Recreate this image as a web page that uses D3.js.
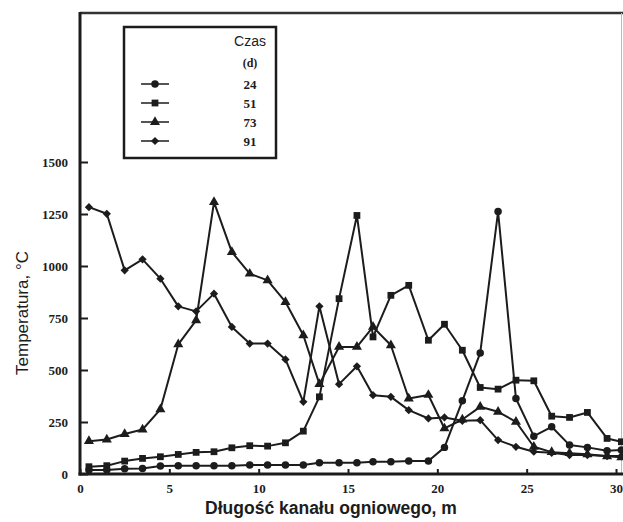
<html>
  <head>
    <script src="https://d3js.org/d3.v7.min.js"></script>
    <style>
      body { margin: 0; background: #fff; }
    </style>
  </head>
  <body>
    <script>
      // distances along the fire channel (m) and temperatures (C) per time (days)
      var dist = [0.5,1.5,2.5,3.5,4.5,5.5,6.5,7.5,8.5,9.5,10.5,11.5,12.5,13.4,14.5,15.5,16.4,17.4,18.4,19.5,20.4,21.4,22.4,23.4,24.4,25.4,26.4,27.4,28.4,29.5,30.3]
      var t24 = [19,19,25,27,38,40,40,40,40,43,43,43,43,54,54,54,59,59,62,62,128,352,582,1262,363,182,227,139,128,112,115]
      var t51 = [35,40,62,75,83,94,104,107,126,136,134,150,206,371,843,1243,659,859,907,643,720,595,416,408,451,448,278,272,296,171,155]
      var t73 = [158,166,192,214,311,623,739,1307,1067,963,931,827,667,432,611,611,707,619,363,380,219,262,323,299,251,131,105,100,95,85,80]
      var t91 = [1283,1251,979,1032,939,806,782,867,707,627,627,551,347,806,432,518,379,371,307,267,272,256,259,163,131,107,102,91,91,86,86]
      var seriesNames = ["24","51","73","91"]
      var xTicks = [0,5,10,15,20,25,30]
      var yTicks = [0,250,500,750,1000,1250,1500]

      var width = 623
      var height = 522
      var ink = "#1c1c1c"

      var svg = d3.select("body").append("svg")
      .attr("width", width)
      .attr("height", height);

      var x = d3.scaleLinear().domain([0,30]).range([80,616])
      var y = d3.scaleLinear().domain([0,1500]).range([474,162])

      // diamond drawn as a square turned 45 degrees
      var symbols = [d3.symbolCircle, d3.symbolSquare, d3.symbolTriangle, d3.symbolSquare]
      var symRot = [0, 0, 0, 45]
      var symSize = [44, 46, 44, 34]
      var allSeries = [t24, t51, t73, t91]

      // frame
      svg.append("line").attr("x1",80).attr("y1",13).attr("x2",623).attr("y2",13)
      .style("stroke","#333").style("stroke-width",2.5)
      svg.append("line").attr("x1",621.5).attr("y1",13).attr("x2",621.5).attr("y2",474)
      .style("stroke","#bbb").style("stroke-width",1)

      // axes
      var yAxis = d3.axisLeft(y).tickValues(yTicks).tickSize(-8).tickPadding(12).tickFormat(d3.format("d"))
      var xAxis = d3.axisBottom(x).tickValues(xTicks).tickSize(-5).tickPadding(10).tickFormat(d3.format("d"))

      var gy = svg.append("g").attr("transform","translate(80,0)").call(yAxis)
      var gx = svg.append("g").attr("transform","translate(0,474)").call(xAxis)
      gy.select(".domain").remove()
      gx.select(".domain").remove()
      svg.append("line").attr("x1",80).attr("y1",12).attr("x2",80).attr("y2",475.5)
      .style("stroke",ink).style("stroke-width",3)
      svg.append("line").attr("x1",78.5).attr("y1",474).attr("x2",623).attr("y2",474)
      .style("stroke",ink).style("stroke-width",3)

      svg.selectAll(".tick line").style("stroke",ink).style("stroke-width",2)
      svg.selectAll(".tick text")
      .style("font-family","'Liberation Serif', serif")
      .style("font-weight","bold")
      .style("font-size","13px")
      .style("fill",ink)

      // series
      var line = d3.line().x(function(d,i){ return x(dist[i]) }).y(function(d){ return y(d) })

      allSeries.forEach(function(vals, k) {
        svg.append("path")
        .datum(vals)
        .attr("d", line)
        .style("fill","none")
        .style("stroke",ink)
        .style("stroke-width",2)
        .style("stroke-linejoin","round")

        svg.selectAll(".pt" + k)
        .data(vals)
        .enter().append("path")
        .attr("class","pt" + k)
        .attr("transform", function(d,i){ return "translate(" + x(dist[i]) + "," + y(d) + ") rotate(" + symRot[k] + ")" })
        .attr("d", d3.symbol().type(symbols[k]).size(symSize[k]))
        .style("fill",ink)
      })

      // legend
      svg.append("rect")
      .attr("x",124).attr("y",27).attr("width",152).attr("height",131)
      .style("fill","white").style("stroke",ink).style("stroke-width",2.5)

      svg.append("text").attr("x",250).attr("y",46).attr("text-anchor","middle")
      .style("font-family","'Liberation Sans', Arial, sans-serif").style("font-size","14px")
      .style("fill",ink).text("Czas")
      svg.append("text").attr("x",250).attr("y",67).attr("text-anchor","middle")
      .style("font-family","'Liberation Serif', serif").style("font-weight","bold").style("font-size","12px")
      .style("fill",ink).text("(d)")

      var legY = [84, 103, 122, 141]
      seriesNames.forEach(function(name, k) {
        svg.append("line").attr("x1",141).attr("x2",169).attr("y1",legY[k]).attr("y2",legY[k])
        .style("stroke",ink).style("stroke-width",1.5)
        svg.append("path")
        .attr("transform","translate(155," + legY[k] + ") rotate(" + symRot[k] + ")")
        .attr("d", d3.symbol().type(symbols[k]).size(symSize[k]))
        .style("fill",ink)
        svg.append("text").attr("x",250).attr("y",legY[k] + 4.5).attr("text-anchor","middle")
        .style("font-family","'Liberation Serif', serif").style("font-weight","bold").style("font-size","13px")
        .style("fill",ink).text(name)
      })

      // axis titles
      svg.append("text")
      .attr("transform","translate(28,313) rotate(-90)")
      .attr("text-anchor","middle")
      .style("font-family","'Liberation Sans', Arial, sans-serif").style("font-size","17px")
      .style("fill",ink).text("Temperatura, °C")

      svg.append("text")
      .attr("x",331).attr("y",514)
      .attr("text-anchor","middle")
      .style("font-family","'Liberation Sans', Arial, sans-serif").style("font-size","17.5px").style("font-weight","bold")
      .style("fill",ink).text("Długość kanału ogniowego, m")
    </script>
  </body>
</html>
